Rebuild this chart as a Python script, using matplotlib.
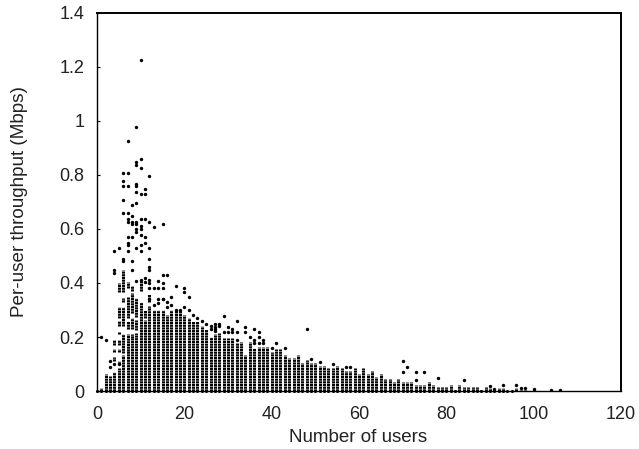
import matplotlib
matplotlib.use("Agg")
import matplotlib.pyplot as plt

plt.rcParams['font.family'] = ['Liberation Sans', 'DejaVu Sans']
plt.rcParams['lines.scale_dashes'] = False

# top of the solid column for each user count
users = list(range(1, 107))
tops = [.01, .063, .055, .07, .084, .133, .15, .195, .213, .33,
        .263, .30, .30, .30, .30, .28, .30, .30, .30, .28,
        .27, .26, .26, .24, .23, .20, .21, .213, .195, .195,
        .195, .177, .183, .133, .183, .158, .164, .164, .164, .146,
        .154, .154, .133, .123, .123, .133, .102, .115, .102, .102,
        .093, .093, .084, .084, .094, .084, .074, .074, .084, .063,
        .084, .063, .074, .053, .063, .043, .043, .033, .043, .033,
        .033, .033, .023, .023, .023, .033, .023, .014, .014, .014,
        .023, .004, .023, .014, .014, .014, .014, .004, .014, .01,
        .004, .01, .01, 0, 0, .01, .004, .004, 0, .004,
        0, 0, 0, 0, 0, 0]

# stacks of dots above the columns
band_users = [4, 4, 4,
              5, 5, 5, 5, 5, 5, 5,
              6, 6, 6, 6,
              7, 7, 7, 7,
              8, 8, 8, 8,
              9, 9,
              10, 11, 12, 12]
band_lo = [.17, .145, .11,
           .367, .27, .24, .21, .17, .145, .10,
           .367, .33, .24, .14,
           .38, .27, .23, .15,
           .37, .288, .23, .195,
           .275, .226,
           .37, .27, .33, .30]
band_hi = [.19, .155, .125,
           .40, .31, .26, .22, .19, .155, .11,
           .45, .343, .31, .21,
           .405, .35, .26, .21,
           .39, .364, .27, .21,
           .343, .263,
           .41, .30, .36, .315]

# single dots
out_users = [10, 9, 7, 10, 9, 9, 10, 6, 7, 12, 6, 6, 7, 9, 9, 11, 9, 10, 11, 6, 9, 8, 6, 7, 8, 7, 10, 11,
             7, 8, 8, 9, 9, 10, 10, 9, 9, 12, 13, 15, 7, 8, 10, 11, 7, 7, 9, 10, 11, 5, 4, 7, 10, 12,
             6, 6, 8, 12, 12, 12, 8, 4, 4, 9, 10, 11, 11, 12, 12, 12, 13, 14, 14, 15, 15, 16, 15, 15, 18, 20, 20, 21, 17, 16, 15, 14, 14, 12,
             1, 2, 3, 3, 4, 5, 13, 16, 17, 18, 19, 20, 21, 22, 23, 24, 25, 26, 27, 28, 27, 27, 27, 28, 26,
             29, 30, 31, 31, 29, 30, 32, 32, 32, 34, 34, 36, 37, 35, 37, 36, 36, 37, 38, 38, 41, 40, 43, 48, 49, 51, 54,
             57, 58, 70, 71, 70, 73, 73, 75, 78, 84, 93, 96, 97, 98, 100, 104, 106, 90, 91]
out_vals = [1.226, .977, .927, .858, .848, .837, .827, .807, .807, .798, .778, .758, .758, .768, .758, .748, .738, .728, .728, .707, .698, .688, .658, .658, .648, .638, .638, .638,
            .627, .627, .619, .627, .619, .611, .599, .599, .589, .627, .609, .619, .569, .569, .579, .569, .549, .54, .53, .54, .547, .528, .52, .52, .52, .528,
            .49, .48, .48, .49, .46, .45, .45, .448, .438, .407, .41, .417, .405, .41, .40, .38, .38, .407, .38, .43, .40, .43, .38, .34, .389, .38, .368, .349, .349, .33, .34, .34, .325, .34,
            .199, .189, .11, .09, .10, .10, .32, .31, .32, .30, .30, .31, .30, .28, .27, .26, .25, .23, .25, .25, .238, .223, .228, .24, .24,
            .279, .238, .228, .22, .22, .22, .258, .22, .189, .238, .22, .228, .22, .199, .199, .189, .177, .179, .189, .179, .179, .159, .159, .228, .118, .109, .099,
            .09, .09, .11, .09, .069, .069, .04, .069, .049, .04, .022, .022, .01, .01, .006, .002, .002, .02, .006]

x_ticks = [0, 20, 40, 60, 80, 100, 120]
y_ticks = [0, 0.2, 0.4, 0.6, 0.8, 1, 1.2, 1.4]
y_labels = ['0', '0.2', '0.4', '0.6', '0.8', '1', '1.2', '1.4']

fig = plt.figure(figsize=(6.39, 4.49), dpi=100)
ax = fig.add_axes([97 / 639, 1 - 391 / 449, 524 / 639, 378 / 449])

# dashes stand in for the 0.01 Mbps grid of dots
dots = (0, (1.55, 0.39))
ax.vlines(users, 0, tops, colors='black', linewidth=2.2, linestyles=dots)
ax.vlines(band_users, band_lo, band_hi, colors='black', linewidth=2.2, linestyles=dots)
ax.scatter([0] + users[:95], [0] * 96, s=5, color='black', linewidths=0, clip_on=False, zorder=3)
ax.scatter(out_users, out_vals, s=6, color='black', linewidths=0, zorder=3)

ax.set_xlim(0, 120)
ax.set_ylim(0, 1.4)
ax.set_xticks(x_ticks)
ax.set_yticks(y_ticks, y_labels)
ax.tick_params(axis='y', direction='in', length=2.5, width=0.8, labelsize=13, pad=9, labelcolor='#222222')
ax.tick_params(axis='x', length=0, labelsize=13, pad=11, labelcolor='#222222')
ax.set_xlabel('Number of users', fontsize=13.5, color='#222222')
ax.set_ylabel('Per-user throughput (Mbps)', fontsize=13.6, color='#222222')
ax.xaxis.set_label_coords(0.498, -0.1)
ax.yaxis.set_label_coords(-0.132, 0.5)
ax.spines['left'].set_linewidth(1.0)
ax.spines['top'].set_linewidth(1.4)
ax.spines['right'].set_linewidth(1.4)
ax.spines['bottom'].set_linewidth(1.0)

fig.savefig('out.png', dpi=100)
